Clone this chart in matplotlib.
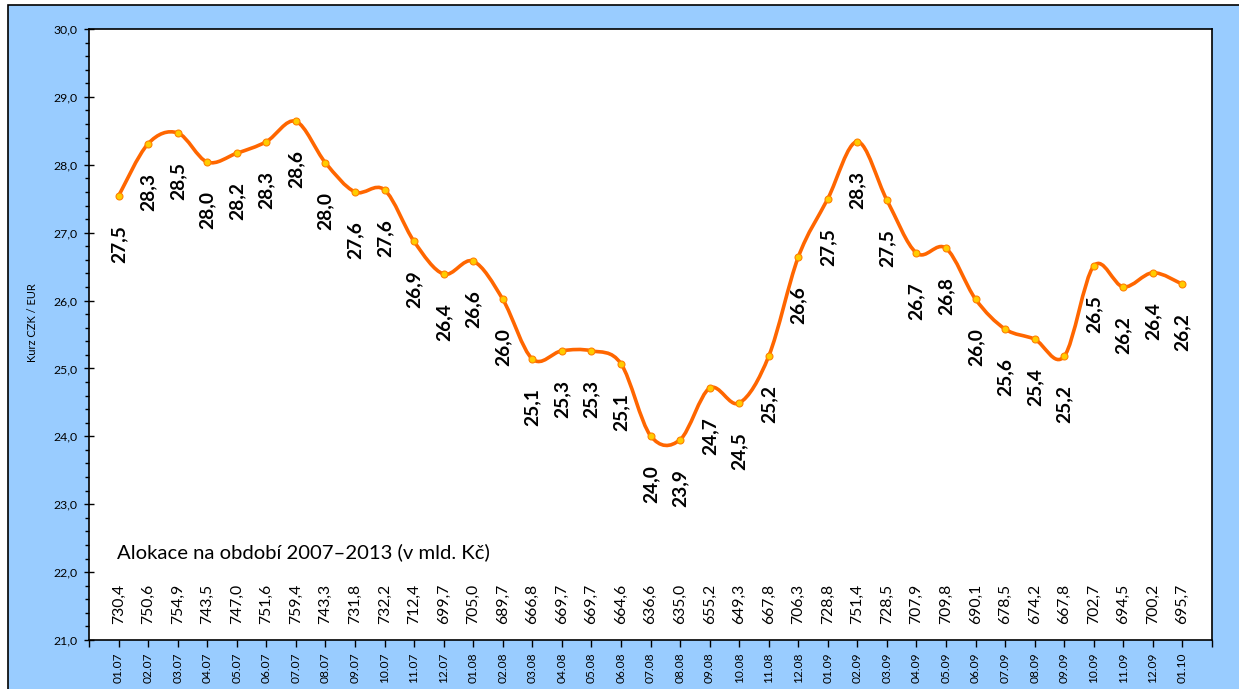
import numpy as np
import matplotlib
matplotlib.use('Agg')
import matplotlib.pyplot as plt
from matplotlib.path import Path
import matplotlib.patches as mpatches
from matplotlib.ticker import FuncFormatter, MultipleLocator

plt.rcParams['font.family'] = ['Lato', 'DejaVu Sans']

# data
months = ['01.07', '02.07', '03.07', '04.07', '05.07', '06.07', '07.07', '08.07', '09.07',
          '10.07', '11.07', '12.07', '01.08', '02.08', '03.08', '04.08', '05.08', '06.08',
          '07.08', '08.08', '09.08', '10.08', '11.08', '12.08', '01.09', '02.09', '03.09',
          '04.09', '05.09', '06.09', '07.09', '08.09', '09.09', '10.09', '11.09', '12.09',
          '01.10']
rate = [27.54, 28.31, 28.47, 28.04, 28.17, 28.34, 28.64, 28.03, 27.60,
        27.63, 26.87, 26.39, 26.58, 26.02, 25.14, 25.26, 25.26, 25.07,
        24.01, 23.95, 24.71, 24.49, 25.18, 26.64, 27.50, 28.34, 27.48,
        26.70, 26.77, 26.02, 25.58, 25.43, 25.18, 26.51, 26.20, 26.41,
        26.24]
allocation = [730.4, 750.6, 754.9, 743.5, 747.0, 751.6, 759.4, 743.3, 731.8,
              732.2, 712.4, 699.7, 705.0, 689.7, 666.8, 669.7, 669.7, 664.6,
              636.6, 635.0, 655.2, 649.3, 667.8, 706.3, 728.8, 751.4, 728.5,
              707.9, 709.8, 690.1, 678.5, 674.2, 667.8, 702.7, 694.5, 700.2,
              695.7]


def comma(v, pos=None):
    return f'{v:.1f}'.replace('.', ',')


def smooth_path(xs, ys):
    # Excel style smoothed line: Catmull-Rom segments as cubic Bezier curves
    pts = np.column_stack([xs, ys])
    n = len(pts)
    verts = [pts[0]]
    codes = [Path.MOVETO]
    for i in range(n - 1):
        p0 = pts[max(i - 1, 0)]
        p1 = pts[i]
        p2 = pts[i + 1]
        p3 = pts[min(i + 2, n - 1)]
        c1 = p1 + (p2 - p0) / 6.0
        c2 = p2 - (p3 - p1) / 6.0
        verts += [c1, c2, p2]
        codes += [Path.CURVE4] * 3
    return Path(verts, codes)


fig = plt.figure(figsize=(12.39, 6.89), dpi=100, facecolor='white')
W, H = 1239, 689

# blue chart area with black frame (left and top edges visible)
bg = mpatches.Rectangle((8 / W, -0.2), 1.2, 1.2 - 5 / H, transform=fig.transFigure,
                        facecolor='#99CCFF', edgecolor='black', lw=1.2, zorder=0)
fig.add_artist(bg)

ax = fig.add_axes([89 / W, 1 - 640 / H, (1212 - 89) / W, (640 - 29) / H])
ax.set_facecolor('white')
ax.set_zorder(1)

x = np.arange(len(months))

curve = mpatches.PathPatch(smooth_path(x, rate), facecolor='none', edgecolor='#FF6600',
                           lw=2.6, capstyle='round', joinstyle='round', zorder=3)
ax.add_patch(curve)
ax.plot(x, rate, linestyle='none', marker='o', markersize=5,
        markerfacecolor='#FFCC00', markeredgecolor='#FF8000', markeredgewidth=0.8, zorder=4)

for xi, v in zip(x, rate):
    ax.annotate(comma(round(v, 1)), (xi, v), xytext=(0, -21), textcoords='offset points',
                rotation=90, ha='center', va='top', fontsize=13.8, fontweight='bold',
                color='black', zorder=5)

for xi, a in zip(x, allocation):
    ax.annotate(comma(a), (xi, 21), xytext=(0, 11.5), textcoords='offset points',
                rotation=90, ha='center', va='bottom', fontsize=11.3, color='black')

ax.text(-0.05, 22.3, 'Alokace na období 2007–2013 (v mld. Kč)', ha='left', va='center',
        fontsize=14.6, color='black')

ax.set_xlim(-1, len(months))
ax.set_ylim(21, 30)

ax.set_xticks(np.arange(-1, len(months) + 1))
ax.set_xticklabels([''] + months + [''], rotation=90, fontsize=8.6)
ax.tick_params(axis='x', direction='out', length=5, width=1, pad=4)

ax.yaxis.set_major_locator(MultipleLocator(1))
ax.yaxis.set_minor_locator(MultipleLocator(0.2))
ax.yaxis.set_major_formatter(FuncFormatter(comma))
ax.tick_params(axis='y', which='major', direction='inout', length=7, width=1,
               labelsize=8.8, pad=5)
ax.tick_params(axis='y', which='minor', direction='out', length=3, width=1)

for s in ax.spines.values():
    s.set_color('black')
    s.set_linewidth(1.2)

fig.text(33 / W, 1 - 323 / H, 'Kurz CZK / EUR', rotation=90, ha='center', va='center',
         fontsize=8, color='black')

fig.savefig('out.png', dpi=100, facecolor='white')
